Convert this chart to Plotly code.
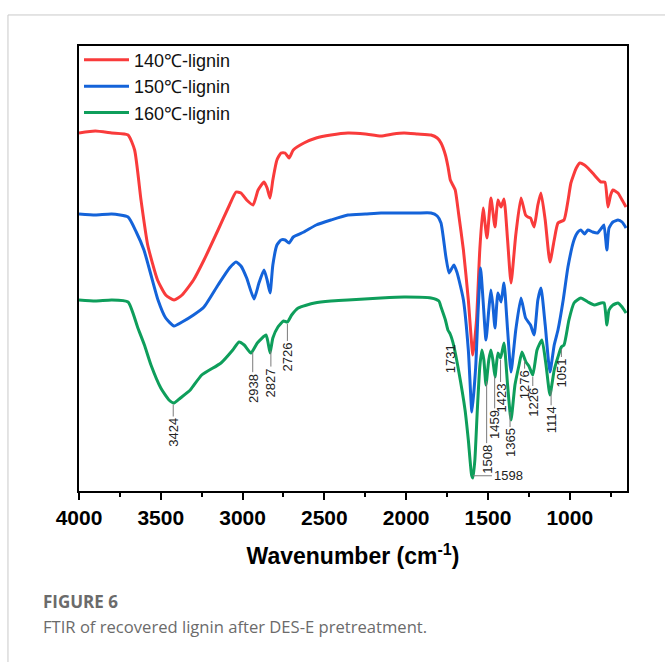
import numpy as np
import plotly.graph_objects as go

# ---------------- data ----------------
wn_red = [4000, 3900, 3800, 3700, 3660, 3621, 3580, 3520, 3470, 3419, 3370, 3300, 3236, 3150, 3080, 3040, 3010,
          2975, 2936, 2905, 2869, 2850, 2832, 2815, 2790, 2765, 2740, 2716, 2690, 2625, 2550, 2460, 2356, 2250,
          2154, 2080, 2013, 1930, 1848, 1810, 1787, 1760, 1744, 1730, 1715, 1700, 1680, 1650, 1620, 1592, 1570,
          1550, 1530, 1506, 1482, 1457, 1439, 1420, 1402, 1380, 1359, 1330, 1298, 1270, 1256, 1240, 1218, 1195,
          1176, 1150, 1121, 1095, 1072, 1035, 1010, 993, 960, 938, 910, 889, 850, 809, 785, 766, 750, 736, 705,
          680, 656]
t_red = [359, 361, 359, 357, 342, 292, 247, 212, 197, 192, 197, 212, 232, 262, 287, 300, 299,
         292, 287, 302, 310, 304, 294, 312, 332, 339, 339, 334, 342, 349, 354, 357, 359, 358,
         356, 358, 359, 358, 357, 354, 349, 337, 325, 312, 307, 302, 279, 242, 192, 137, 172,
         242, 284, 254, 294, 265, 292, 285, 293, 252, 209, 257, 294, 277, 275, 274, 265, 287,
         299, 272, 230, 252, 269, 272, 292, 309, 324, 329, 327, 324, 317, 310, 310, 285, 297, 302, 299,
         292, 285]

wn_blue = [4000, 3900, 3800, 3700, 3650, 3603, 3560, 3517, 3470, 3419, 3370, 3300, 3236, 3150, 3080, 3040, 3010,
           2975, 2930, 2900, 2869, 2850, 2832, 2815, 2790, 2765, 2740, 2716, 2690, 2625, 2550, 2460, 2356, 2250,
           2154, 2013, 1930, 1848, 1810, 1787, 1757, 1738, 1720, 1708, 1690, 1677, 1650, 1620, 1598, 1575, 1560,
           1545, 1530, 1512, 1495, 1482, 1470, 1457, 1439, 1420, 1402, 1380, 1359, 1330, 1298, 1270, 1240, 1218,
           1195, 1176, 1150, 1121, 1095, 1072, 1040, 1011, 974, 950, 932, 910, 889, 860, 830, 805, 791, 773, 760,
           736, 705, 680, 656]
t_blue = [278, 277, 278, 275, 260, 242, 217, 192, 174, 166, 170, 177, 185, 207, 224, 230, 226,
          214, 193, 209, 222, 212, 199, 227, 247, 252, 252, 249, 255, 260, 267, 272, 277, 278,
          279, 279, 279, 279, 276, 269, 235, 219, 224, 227, 220, 212, 192, 142, 80, 125, 182,
          224, 192, 152, 182, 202, 187, 164, 199, 190, 209, 162, 120, 162, 194, 174, 167, 157,
          192, 204, 167, 120, 147, 162, 192, 225, 252, 260, 262, 258, 262, 260, 259, 264, 267, 242, 264,
          270, 272, 270, 264]

wn_green = [4000, 3900, 3800, 3700, 3640, 3600, 3560, 3500, 3450, 3419, 3380, 3320, 3250, 3132, 3060, 3022, 2990,
            2949, 2910, 2857, 2845, 2832, 2815, 2784, 2750, 2726, 2700, 2660, 2560, 2460, 2356, 2154, 2013, 1848,
            1800, 1787, 1760, 1745, 1731, 1710, 1680, 1640, 1620, 1600, 1592, 1580, 1565, 1550, 1537, 1525, 1512,
            1495, 1482, 1470, 1457, 1439, 1423, 1402, 1380, 1359, 1335, 1310, 1292, 1268, 1250, 1226, 1200, 1170,
            1145, 1121, 1095, 1072, 1051, 1035, 1005, 974, 932, 889, 850, 809, 790, 773, 760, 736, 705, 680, 656]
t_green = [192, 191, 192, 190, 164, 147, 127, 104, 92, 89, 94, 102, 117, 129, 142, 150, 147,
           139, 149, 157, 150, 139, 154, 165, 171, 170, 177, 184, 189, 191, 192, 194, 195, 194,
           191, 185, 172, 162, 158, 147, 122, 82, 52, 17, 14, 32, 82, 125, 142, 132, 107,
           132, 142, 132, 115, 139, 134, 149, 107, 72, 107, 127, 140, 130, 126, 117, 142, 152,
           127, 97, 122, 135, 145, 147, 172, 189, 194, 190, 187, 189, 189, 167, 182, 187, 189, 185, 179]

series_names = ["140\u2103-lignin", "150\u2103-lignin", "160\u2103-lignin"]
series_colors = ["#F93B3B", "#1463D9", "#0E9E5B"]

# peak labels on the 160 C curve: wavenumber, label, text offset (px)
peak_wn = [3424, 2938, 2827, 2726, 1731, 1508, 1459, 1423, 1365, 1276, 1226, 1114, 1051]
peak_lbl = ["3424", "2938", "2827", "2726", "1731", "1508", "1459", "1423", "1365", "1276", "1226", "1114", "1051"]
peak_off = [30, 38, 34, 35, 25, 80, 50, 40, 33, 26, 27, 32, 26]
main_peak_wn = 1598
main_peak_lbl = "1598"

xtick_vals = [4000, 3500, 3000, 2500, 2000, 1500, 1000]

# ---------------- figure ----------------
fig = go.Figure()
for wn, t, name, col in zip([wn_red, wn_blue, wn_green], [t_red, t_blue, t_green], series_names, series_colors):
    fig.add_trace(go.Scatter(x=wn, y=t, mode="lines", name=name,
                             line=dict(color=col, width=3, shape="spline", smoothing=0.5)))

gx = np.array(wn_green[::-1], dtype=float)
gy = np.array(t_green[::-1], dtype=float)

annotations = []
for w, lbl, off in zip(peak_wn, peak_lbl, peak_off):
    yv = float(np.interp(w, gx, gy))
    annotations.append(dict(x=w, y=yv, xref="x", yref="y", text=lbl, textangle=-90,
                            showarrow=True, arrowhead=0, arrowwidth=1, arrowcolor="#7a7a7a",
                            ax=0, ay=off, standoff=2,
                            font=dict(family="Liberation Sans, Arial", size=13, color="#222222")))
yv = float(np.interp(main_peak_wn, gx, gy))
annotations.append(dict(x=main_peak_wn, y=yv, xref="x", yref="y", text=main_peak_lbl,
                        showarrow=True, arrowhead=0, arrowwidth=1, arrowcolor="#7a7a7a",
                        ax=20, ay=0, standoff=1, xanchor="left",
                        font=dict(family="Liberation Sans, Arial", size=13, color="#222222")))

# caption
annotations.append(dict(x=-0.0693, y=-0.249, xref="paper", yref="paper", xanchor="left", yanchor="middle",
                        text="<b>FIGURE 6</b>", showarrow=False,
                        font=dict(family="Open Sans", size=17, color="#6b6b6b")))
annotations.append(dict(x=-0.0693, y=-0.3056, xref="paper", yref="paper", xanchor="left", yanchor="middle",
                        text="FTIR of recovered lignin after DES-E pretreatment.", showarrow=False,
                        font=dict(family="Open Sans", size=16.6, color="#6b6b6b")))

fig.update_layout(
    width=665, height=662,
    margin=dict(l=79, r=38, t=46, b=171),
    paper_bgcolor="white", plot_bgcolor="white",
    showlegend=True,
    legend=dict(x=0.0, y=1.01, xanchor="left", yanchor="top", bgcolor="rgba(0,0,0,0)",
                font=dict(family="Liberation Sans, Arial", size=18, color="#111111"),
                itemwidth=45, tracegroupgap=0, tracegroupgap_=None) if False else
           dict(x=0.0, y=1.01, xanchor="left", yanchor="top", bgcolor="rgba(0,0,0,0)",
                font=dict(family="Liberation Sans, Arial", size=18, color="#111111"),
                itemwidth=45, tracegroupgap=0),
    annotations=annotations,
    shapes=[dict(type="rect", xref="paper", yref="paper", x0=-0.1296, y0=-0.6, x1=1.2, y1=1.0697,
                 line=dict(color="#c9c9c9", width=1), fillcolor="rgba(0,0,0,0)", layer="below")],
    xaxis=dict(range=[4000, 650], tickmode="array", tickvals=xtick_vals,
               ticks="outside", ticklen=7, tickwidth=2, tickcolor="black",
               showline=True, linecolor="black", linewidth=2, mirror=True,
               showgrid=False, zeroline=False,
               tickfont=dict(family="Liberation Sans, Arial", size=21, color="black", weight="bold"),
               minor=dict(ticks="outside", ticklen=4, tickwidth=2, tickcolor="black", dtick=250, tick0=750,
                          showgrid=False),
               title=dict(text="<b>Wavenumber (cm<sup>-1</sup>)</b>", standoff=20,
                          font=dict(family="Liberation Sans, Arial", size=23, color="black"))),
    yaxis=dict(range=[1, 446], showticklabels=False, ticks="", showgrid=False, zeroline=False,
               showline=True, linecolor="black", linewidth=2, mirror=True),
)

fig.write_html("out.html")
